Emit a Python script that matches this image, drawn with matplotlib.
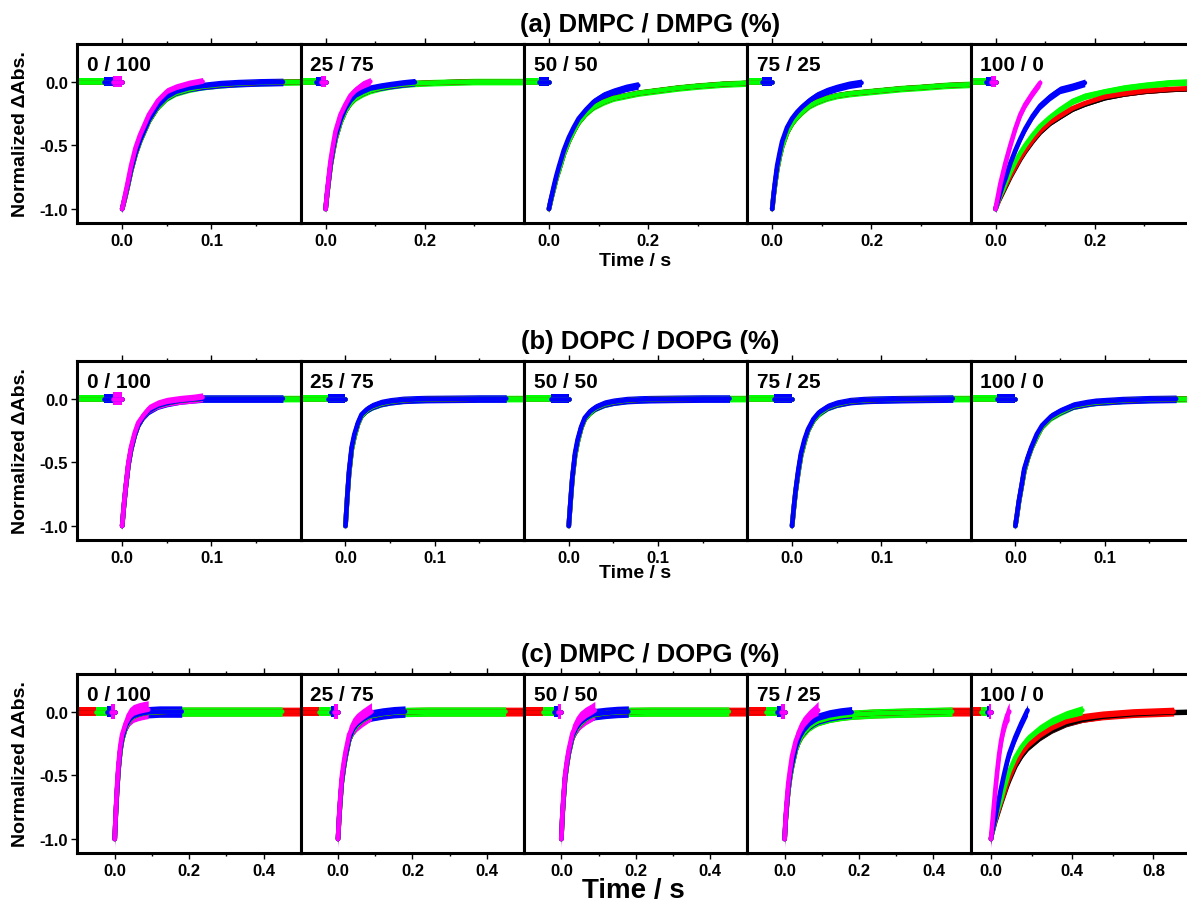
import numpy as np
import matplotlib
matplotlib.use("Agg")
import matplotlib.pyplot as plt
from matplotlib.ticker import FixedLocator, FormatStrFormatter

# ---- data -------------------------------------------------------------
# traces are drawn bottom to top: black, red, green, blue, magenta
TRACE_COLORS = ["#000000", "#ff0000", "#00ff00", "#0000ff", "#ff00ff"]
WIN_START = [-0.2, -0.1, -0.05, -0.02, -0.01]   # pre-trigger start (s)
WIN_END = [1.8, 0.9, 0.45, 0.18, 0.09]          # end of acquisition window (s)
BASELINE = 0.0

ROW_TITLES = ["(a) DMPC / DMPG (%)", "(b) DOPC / DOPG (%)", "(c) DMPC / DOPG (%)"]
RATIOS = ["0 / 100", "25 / 75", "50 / 50", "75 / 25", "100 / 0"]

# row (a) DMPC / DMPG
A_T = [0, 0.003, 0.006, 0.01, 0.015, 0.02, 0.03, 0.04, 0.05, 0.06, 0.075,
       0.09, 0.11, 0.13, 0.155, 0.18, 0.22, 0.26, 0.3, 0.35, 0.41]
A1_M = [-1.0, -0.9, -0.8, -0.66, -0.52, -0.42, -0.26, -0.15, -0.08, -0.05, -0.02, 0.0]
A1_B = [-1.0, -0.91, -0.82, -0.69, -0.56, -0.46, -0.3, -0.19, -0.12, -0.08, -0.05,
        -0.035, -0.02, -0.012, -0.006, -0.003]
A1_G = [-1.0, -0.92, -0.83, -0.7, -0.57, -0.47, -0.31, -0.2, -0.13, -0.09, -0.06,
        -0.04, -0.025, -0.015, -0.008, -0.004, 0.0, 0.0, 0.0, 0.0, 0.0]
A2_M = [-1.0, -0.87, -0.76, -0.62, -0.5, -0.39, -0.26, -0.18, -0.11, -0.07, -0.025, 0.0]
A2_B = [-1.0, -0.88, -0.78, -0.65, -0.53, -0.43, -0.3, -0.21, -0.15, -0.11, -0.08,
        -0.055, -0.04, -0.028, -0.015, -0.005]
A2_G = [-1.0, -0.89, -0.79, -0.66, -0.55, -0.45, -0.32, -0.23, -0.17, -0.13, -0.095,
        -0.07, -0.05, -0.035, -0.022, -0.014, -0.008, -0.004, 0.0, 0.0, 0.0]
A3_B = [-1.0, -0.94, -0.89, -0.82, -0.74, -0.67, -0.54, -0.44, -0.36, -0.29, -0.22,
        -0.16, -0.11, -0.08, -0.05, -0.03]
A3_G = [-1.0, -0.95, -0.9, -0.84, -0.76, -0.7, -0.57, -0.47, -0.39, -0.32, -0.25,
        -0.2, -0.16, -0.13, -0.11, -0.09, -0.07, -0.05, -0.035, -0.02, -0.01]
A4_B = [-1.0, -0.88, -0.78, -0.66, -0.56, -0.47, -0.36, -0.29, -0.24, -0.2, -0.15,
        -0.11, -0.075, -0.05, -0.025, -0.01]
A4_G = [-1.0, -0.89, -0.8, -0.69, -0.59, -0.51, -0.4, -0.33, -0.28, -0.24, -0.19,
        -0.16, -0.13, -0.11, -0.095, -0.085, -0.07, -0.055, -0.045, -0.03, -0.02]
A5_M = [-1.0, -0.94, -0.88, -0.8, -0.72, -0.64, -0.5, -0.37, -0.26, -0.18, -0.09, -0.01]
A5_B = [-1.0, -0.96, -0.92, -0.87, -0.81, -0.76, -0.64, -0.54, -0.45, -0.37, -0.27,
        -0.19, -0.12, -0.065, -0.04, -0.01]
A5_G = [-1.0, -0.97, -0.93, -0.89, -0.85, -0.8, -0.71, -0.63, -0.56, -0.5, -0.42,
        -0.35, -0.28, -0.22, -0.155, -0.115, -0.08, -0.05, -0.03, -0.01, 0.0]
A5_R = [-1.0, -0.97, -0.94, -0.9, -0.86, -0.82, -0.74, -0.67, -0.6, -0.54, -0.46,
        -0.39, -0.32, -0.27, -0.21, -0.17, -0.12, -0.095, -0.075, -0.06, -0.05]
A5_K = [-1.0, -0.97, -0.94, -0.91, -0.87, -0.83, -0.75, -0.68, -0.61, -0.55, -0.47,
        -0.4, -0.33, -0.28, -0.22, -0.18, -0.13, -0.1, -0.08, -0.065, -0.055]

# row (b) DOPC / DOPG
B_T = [0, 0.002, 0.004, 0.007, 0.01, 0.014, 0.018, 0.024, 0.03, 0.04, 0.05,
       0.065, 0.08, 0.09, 0.12, 0.15, 0.18, 0.21]
B1_M = [-1.0, -0.83, -0.69, -0.5, -0.38, -0.27, -0.19, -0.13, -0.08, -0.045,
        -0.025, -0.01, 0.0, 0.01]
B1_B = [-1.0, -0.84, -0.7, -0.52, -0.4, -0.29, -0.21, -0.14, -0.095, -0.055,
        -0.035, -0.015, -0.005, 0.0, 0.0, 0.0, 0.0]
B1_G = [-1.0, -0.84, -0.7, -0.52, -0.4, -0.29, -0.21, -0.14, -0.095, -0.055,
        -0.035, -0.015, -0.005, 0.0, 0.0, 0.0, 0.0, 0.0]
B2_B = [-1.0, -0.77, -0.57, -0.38, -0.28, -0.19, -0.125, -0.085, -0.06, -0.035,
        -0.022, -0.01, -0.006, -0.004, -0.002, 0.0, 0.0]
B2_G = [-1.0, -0.78, -0.59, -0.4, -0.3, -0.2, -0.135, -0.09, -0.065, -0.04,
        -0.025, -0.012, -0.007, -0.005, -0.003, 0.0, 0.0, 0.0]
B3_B = [-1.0, -0.8, -0.62, -0.43, -0.32, -0.22, -0.15, -0.1, -0.07, -0.04,
        -0.025, -0.012, -0.007, -0.005, -0.002, 0.0, 0.0]
B3_G = [-1.0, -0.81, -0.63, -0.45, -0.34, -0.23, -0.16, -0.11, -0.075, -0.045,
        -0.028, -0.014, -0.008, -0.005, -0.002, 0.0, 0.0, 0.0]
B4_B = [-1.0, -0.85, -0.72, -0.56, -0.43, -0.32, -0.24, -0.16, -0.11, -0.065,
        -0.04, -0.02, -0.012, -0.009, -0.005, -0.002, 0.0]
B4_G = [-1.0, -0.86, -0.73, -0.58, -0.45, -0.34, -0.25, -0.17, -0.12, -0.07,
        -0.045, -0.022, -0.014, -0.01, -0.005, -0.002, 0.0, 0.0]
B5_B = [-1.0, -0.9, -0.8, -0.68, -0.55, -0.46, -0.38, -0.28, -0.21, -0.14,
        -0.1, -0.055, -0.035, -0.025, -0.012, -0.005, -0.002]
B5_G = [-1.0, -0.91, -0.81, -0.69, -0.57, -0.47, -0.39, -0.3, -0.22, -0.15,
        -0.11, -0.06, -0.04, -0.03, -0.014, -0.006, -0.003, 0.0]

# row (c) DMPC / DOPG
C_T = [0, 0.003, 0.006, 0.01, 0.015, 0.02, 0.03, 0.04, 0.05, 0.065, 0.08, 0.09,
       0.12, 0.15, 0.18, 0.24, 0.3, 0.37, 0.45, 0.55, 0.7, 0.9, 1.05]
C1_M = [-1.0, -0.78, -0.6, -0.42, -0.27, -0.18, -0.09, -0.04, -0.015, 0.0, 0.01, 0.015]
C1_B = [-1.0, -0.8, -0.63, -0.45, -0.3, -0.21, -0.11, -0.06, -0.035, -0.02, -0.01,
        -0.005, 0.0, 0.0, 0.0]
C1_S = [-1.0, -0.8, -0.64, -0.46, -0.31, -0.22, -0.12, -0.065, -0.04, -0.022, -0.012,
        -0.008, -0.003, 0.0, 0.0, 0.0, 0.0, 0.0, 0.0, 0.0, 0.0, 0.0, 0.0]
C2_M = [-1.0, -0.82, -0.68, -0.52, -0.41, -0.32, -0.18, -0.12, -0.085, -0.05, -0.02, 0.0]
C2_B = [-1.0, -0.83, -0.7, -0.55, -0.44, -0.35, -0.21, -0.14, -0.1, -0.065, -0.04,
        -0.03, -0.015, -0.005, 0.0]
C2_S = [-1.0, -0.84, -0.71, -0.56, -0.45, -0.36, -0.22, -0.15, -0.11, -0.07, -0.045,
        -0.035, -0.018, -0.008, -0.003, 0.0, 0.0, 0.0, 0.0, 0.0, 0.0, 0.0, 0.0]
C3_M = [-1.0, -0.8, -0.66, -0.5, -0.39, -0.3, -0.17, -0.11, -0.07, -0.035, -0.01, 0.01]
C3_B = [-1.0, -0.81, -0.68, -0.52, -0.41, -0.32, -0.19, -0.13, -0.09, -0.055, -0.03,
        -0.02, -0.01, -0.003, 0.0]
C3_S = [-1.0, -0.82, -0.69, -0.53, -0.42, -0.33, -0.2, -0.14, -0.1, -0.06, -0.035,
        -0.025, -0.012, -0.005, -0.002, 0.0, 0.0, 0.0, 0.0, 0.0, 0.0, 0.0, 0.0]
C4_M = [-1.0, -0.82, -0.7, -0.56, -0.45, -0.35, -0.23, -0.16, -0.11, -0.06, -0.02, 0.01]
C4_B = [-1.0, -0.84, -0.73, -0.6, -0.49, -0.41, -0.28, -0.2, -0.15, -0.1, -0.07,
        -0.055, -0.03, -0.015, -0.005]
C4_S = [-1.0, -0.85, -0.74, -0.62, -0.51, -0.43, -0.3, -0.22, -0.17, -0.12, -0.09,
        -0.075, -0.05, -0.035, -0.025, -0.015, -0.01, -0.005, 0.0, 0.0, 0.0, 0.0, 0.0]
C5_M = [-1.0, -0.94, -0.89, -0.82, -0.73, -0.64, -0.48, -0.34, -0.23, -0.11, -0.03, 0.0]
C5_B = [-1.0, -0.97, -0.94, -0.91, -0.87, -0.84, -0.76, -0.68, -0.6, -0.49, -0.39,
        -0.33, -0.2, -0.09, 0.01]
C5_G = [-1.0, -0.97, -0.95, -0.92, -0.88, -0.85, -0.79, -0.74, -0.69, -0.6, -0.52,
        -0.47, -0.36, -0.28, -0.22, -0.14, -0.08, -0.03, 0.01]
C5_R = [-1.0, -0.97, -0.95, -0.92, -0.89, -0.86, -0.81, -0.76, -0.71, -0.64, -0.56,
        -0.52, -0.41, -0.33, -0.27, -0.19, -0.13, -0.08, -0.05, -0.03, -0.012, 0.0]
C5_K = [-1.0, -0.97, -0.95, -0.93, -0.9, -0.87, -0.82, -0.77, -0.72, -0.65, -0.58,
        -0.54, -0.43, -0.35, -0.29, -0.21, -0.15, -0.1, -0.065, -0.04, -0.02, -0.005, 0.0]

# curves per panel in drawing order (black, red, green, blue, magenta)
ROW_A = [[A1_G, A1_G, A1_G, A1_B, A1_M],
         [A2_G, A2_G, A2_G, A2_B, A2_M],
         [A3_G, A3_G, A3_G, A3_B, None],
         [A4_G, A4_G, A4_G, A4_B, None],
         [A5_K, A5_R, A5_G, A5_B, A5_M]]
ROW_B = [[B1_G, B1_G, B1_G, B1_B, B1_M],
         [B2_G, B2_G, B2_G, B2_B, None],
         [B3_G, B3_G, B3_G, B3_B, None],
         [B4_G, B4_G, B4_G, B4_B, None],
         [B5_G, B5_G, B5_G, B5_B, None]]
ROW_C = [[C1_S, C1_S, C1_S, C1_B, C1_M],
         [C2_S, C2_S, C2_S, C2_B, C2_M],
         [C3_S, C3_S, C3_S, C3_B, C3_M],
         [C4_S, C4_S, C4_S, C4_B, C4_M],
         [C5_K, C5_R, C5_G, C5_B, C5_M]]

XLIMS = [[(-0.05, 0.2)] + [(-0.05, 0.4)] * 4,
         [(-0.05, 0.2)] * 5,
         [(-0.1, 0.5)] * 4 + [(-0.1, 1.0)]]
XMAJOR = [[0.1, 0.2, 0.2, 0.2, 0.2], [0.1] * 5, [0.2, 0.2, 0.2, 0.2, 0.4]]
Y_TICKS = [-1.0, -0.5, 0.0]

# ---- style ------------------------------------------------------------
W, H = 1187, 904
ROW_TOP = [45, 362, 675]
ROW_H = 179
PANEL_X0, PANEL_W = 77.5, 223.3
YLIM = (-1.11, 0.295)
LW = 3.4
NOISE = [[0.015, 0.02, 0.026, 0.03, 0.032],
         [0.015, 0.02, 0.026, 0.03, 0.035],
         [0.02, 0.035, 0.037, 0.045, 0.07]]
PRE_NOISE = [[0.018, 0.022, 0.026, 0.035, 0.045],
             [0.018, 0.022, 0.028, 0.038, 0.05],
             [0.022, 0.038, 0.038, 0.045, 0.06]]

plt.rcParams["font.family"] = ["Liberation Sans", "DejaVu Sans"]
plt.rcParams["font.weight"] = "bold"
plt.rcParams["axes.unicode_minus"] = False

fig = plt.figure(figsize=(W / 100, H / 100), dpi=100)


def draw_trace(ax, t_grid, y, c, r):
    """Pre-trigger baseline plus recovery curve for one colour."""
    color = TRACE_COLORS[c]
    h0 = PRE_NOISE[r][c]
    ax.fill_between([WIN_START[c], 0], BASELINE - h0, BASELINE + h0,
                    color=color, lw=0)
    ax.plot([WIN_START[c], 0], [BASELINE, BASELINE], color=color, lw=LW,
            solid_capstyle="round")
    t = np.array(t_grid[:len(y)])
    y = np.array(y)
    keep = t <= WIN_END[c] + 1e-9
    t, y = t[keep], y[keep]
    h = NOISE[r][c]
    ax.fill_between(t, y - h, y + h, color=color, lw=0)
    ax.plot(t, y, color=color, lw=LW, solid_capstyle="round",
            solid_joinstyle="round")


def inner_ticks(lo, hi, step):
    """Multiples of step strictly inside (lo, hi)."""
    ticks = np.arange(np.ceil(lo / step), np.floor(hi / step) + 1) * step
    return [round(float(v), 6) + 0.0 for v in ticks if lo + 1e-9 < v < hi - 1e-9]


rows = [(A_T, ROW_A), (B_T, ROW_B), (C_T, ROW_C)]
for r, (t_grid, panels) in enumerate(rows):
    top = ROW_TOP[r]
    for p, curves in enumerate(panels):
        x0 = PANEL_X0 + p * PANEL_W
        ax = fig.add_axes([x0 / W, 1 - (top + ROW_H) / H, PANEL_W / W, ROW_H / H])
        for c, y in enumerate(curves):
            if y is not None:
                draw_trace(ax, t_grid, y, c, r)
        lo, hi = XLIMS[r][p]
        step = XMAJOR[r][p]
        ax.set_xlim(lo, hi)
        ax.set_ylim(*YLIM)
        ax.xaxis.set_major_locator(FixedLocator(inner_ticks(lo, hi, step)))
        ax.xaxis.set_minor_locator(FixedLocator(inner_ticks(lo, hi, step / 2)))
        ax.xaxis.set_major_formatter(FormatStrFormatter("%.1f"))
        ax.yaxis.set_major_locator(FixedLocator(Y_TICKS))
        ax.yaxis.set_major_formatter(FormatStrFormatter("%.1f"))
        for s in ax.spines.values():
            s.set_linewidth(2.2)
        ax.tick_params(axis="x", which="both", direction="out", top=True,
                       labelsize=12, pad=3, width=1.0)
        ax.tick_params(axis="x", which="major", length=4)
        ax.tick_params(axis="x", which="minor", length=2.5)
        if p == 0:
            ax.tick_params(axis="y", direction="out", left=True, right=False,
                           labelsize=12, pad=3, length=4, width=1.0)
        else:
            ax.tick_params(axis="y", left=False, right=False, labelleft=False)
        for lab in ax.get_xticklabels() + ax.get_yticklabels():
            lab.set_fontweight("bold")
        ax.text(9.5 / PANEL_W, 1 - 20.5 / ROW_H, RATIOS[p], transform=ax.transAxes,
                ha="left", va="center", fontsize=15, fontweight="bold", zorder=5)

    fig.text(650 / W, 1 - (top - 20) / H, ROW_TITLES[r], ha="center", va="center",
             fontsize=18.5, fontweight="bold")
    fig.text(21 / W, 1 - (top + ROW_H / 2) / H, "Normalized \u0394Abs.",
             rotation=90, ha="center", va="center", fontsize=14, fontweight="bold")

fig.text(635 / W, 1 - 262 / H, "Time / s", ha="center", va="center",
         fontsize=14, fontweight="bold")
fig.text(635 / W, 1 - 574 / H, "Time / s", ha="center", va="center",
         fontsize=14, fontweight="bold")
fig.text(633 / W, 1 - 891 / H, "Time / s", ha="center", va="center",
         fontsize=20, fontweight="bold")

fig.savefig("out.png", dpi=100)
